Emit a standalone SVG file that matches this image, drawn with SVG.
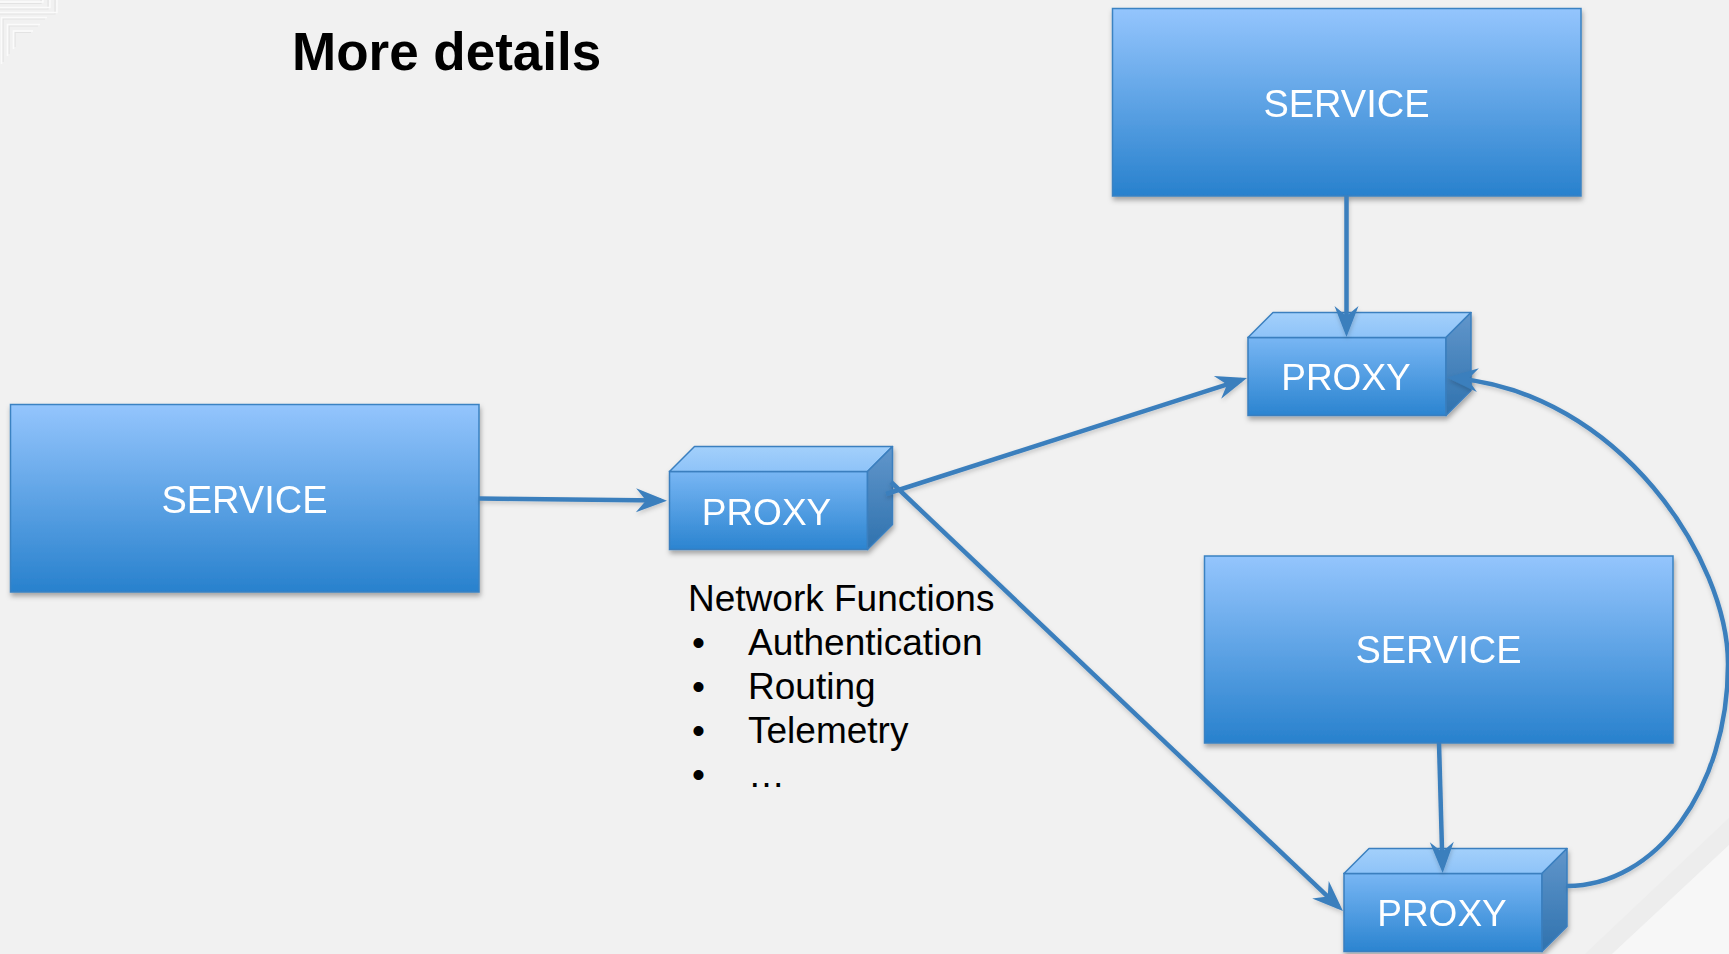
<svg xmlns="http://www.w3.org/2000/svg" width="1729" height="954" viewBox="0 0 1729 954">
  <style>
    .title { font-family: "Liberation Sans", Arial, sans-serif; font-weight: bold; font-size: 53px; fill: #000; }
    .label { font-family: "Liberation Sans", Arial, sans-serif; fill: #fff; text-anchor: middle; }
    .svc-label { font-size: 38px; }
    .proxy-label { font-size: 37px; }
    .notes { font-family: "Liberation Sans", Arial, sans-serif; font-size: 37px; fill: #000; }
    .service { fill: url(#svcFill); stroke: #3b82c2; stroke-width: 1.5; }
    .front { fill: url(#frontFill); stroke: #3a7fbf; stroke-width: 1.5; }
    .top { fill: url(#topFill); stroke: #3a7fbf; stroke-width: 1.5; stroke-linejoin: round; }
    .side { fill: url(#sideFill); stroke: #3a7fbf; stroke-width: 1.5; stroke-linejoin: round; }
    .edge { fill: none; stroke: #3b7fbd; stroke-width: 4.5; marker-end: url(#arrow); }
    .deco-w { fill: none; stroke: #fbfbfb; stroke-width: 1.6; }
    .deco-g { fill: none; stroke: #e3e3e3; stroke-width: 1.2; }
  </style>
  <defs>
    <linearGradient id="svcFill" x1="0" y1="0" x2="0" y2="1">
      <stop offset="0" stop-color="#94c5fd"/>
      <stop offset="1" stop-color="#2881cd"/>
    </linearGradient>
    <linearGradient id="frontFill" x1="0" y1="0" x2="0" y2="1">
      <stop offset="0" stop-color="#78b6f4"/>
      <stop offset="1" stop-color="#2b84d0"/>
    </linearGradient>
    <linearGradient id="topFill" x1="0" y1="0" x2="0" y2="1">
      <stop offset="0" stop-color="#a3d0fb"/>
      <stop offset="1" stop-color="#8ec3f8"/>
    </linearGradient>
    <linearGradient id="sideFill" x1="0" y1="0" x2="0" y2="1">
      <stop offset="0" stop-color="#6196cb"/>
      <stop offset="1" stop-color="#2f72ae"/>
    </linearGradient>
    <filter id="shadow" x="-10%" y="-10%" width="120%" height="130%">
      <feDropShadow dx="1" dy="3.5" stdDeviation="2.5" flood-color="#000" flood-opacity="0.32"/>
    </filter>
    <filter id="lineShadow" x="-10%" y="-10%" width="120%" height="130%">
      <feDropShadow dx="0.5" dy="2.5" stdDeviation="2" flood-color="#000" flood-opacity="0.18"/>
    </filter>
    <marker id="arrow" markerUnits="userSpaceOnUse" viewBox="-26 -13 33 26" refX="0" refY="0" markerWidth="33" markerHeight="26" orient="auto">
      <path d="M6,0 L-25,-12 L-15,0 L-25,12 Z" fill="#3b7fbd"/>
    </marker>
    <!-- 3D proxy box: front face at origin, 198 x 78, depth 25 -->
    <g id="proxyBox">
      <rect class="front" x="0" y="0" width="198" height="78"/>
      <polygon class="top" points="0,0 25,-25 223,-25 198,0"/>
      <polygon class="side" points="198,0 223,-25 223,53 198,78"/>
    </g>
  </defs>

  <!-- page background -->
  <rect x="0" y="0" width="1729" height="954" fill="#f1f1f1"/>

  <!-- corner ornaments -->
  <g id="corner-top-left">
    <path class="deco-g" d="M0,3.5 H41 V0 M0,9 H48 V0 M0,14 H55 V0"/>
    <path class="deco-w" d="M0,2 H43 V0 M0,7.5 H50 V0 M0,12.5 H57 V0"/>
    <path class="deco-g" d="M3,62 V19 H45 M9,54 V26 H38 M15,47 V32.5 H31"/>
    <path class="deco-w" d="M1.5,64 V17.5 H47 M7.5,56 V24.5 H40 M13.5,49 V31 H33"/>
  </g>
  <g id="corner-bottom-right">
    <polygon points="1585,954 1729,818 1729,845 1612,954" fill="#ededed"/>
    <polygon points="1612,954 1729,845 1729,954" fill="#f7f7f7"/>
  </g>

  <!-- title -->
  <text class="title" x="292" y="70">More details</text>

  <!-- services -->
  <g id="service-left" filter="url(#shadow)">
    <rect class="service" x="10.5" y="404.5" width="468.5" height="187.5"/>
    <text class="label svc-label" x="244.5" y="512.5">SERVICE</text>
  </g>
  <g id="service-top" filter="url(#shadow)">
    <rect class="service" x="1112.5" y="8.5" width="468.5" height="187.5"/>
    <text class="label svc-label" x="1346.5" y="116.5">SERVICE</text>
  </g>
  <g id="service-right" filter="url(#shadow)">
    <rect class="service" x="1204.5" y="556" width="468.5" height="187"/>
    <text class="label svc-label" x="1438.5" y="663">SERVICE</text>
  </g>

  <!-- proxies -->
  <g id="proxy-middle" filter="url(#shadow)" transform="translate(669.5,471.5)">
    <use href="#proxyBox"/>
    <text class="label proxy-label" x="97" y="53">PROXY</text>
  </g>
  <g id="proxy-top" filter="url(#shadow)" transform="translate(1248,337.5)">
    <use href="#proxyBox"/>
    <text class="label proxy-label" x="98" y="52.5">PROXY</text>
  </g>
  <g id="proxy-bottom" filter="url(#shadow)" transform="translate(1344,873.5)">
    <use href="#proxyBox"/>
    <text class="label proxy-label" x="98" y="52.5">PROXY</text>
  </g>

  <!-- proxy notes -->
  <g id="network-functions">
    <text class="notes" x="688" y="611">Network Functions</text>
    <text class="notes" x="692" y="654.5">•</text>
    <text class="notes" x="748" y="654.5">Authentication</text>
    <text class="notes" x="692" y="698.5">•</text>
    <text class="notes" x="748" y="698.5">Routing</text>
    <text class="notes" x="692" y="742.5">•</text>
    <text class="notes" x="748" y="742.5">Telemetry</text>
    <text class="notes" x="692" y="786.5">•</text>
    <text class="notes" x="748" y="786.5">…</text>
  </g>

  <!-- connectors -->
  <g id="connectors" filter="url(#lineShadow)">
    <path class="edge" d="M479,498.5 L661,500.6"/>
    <path class="edge" d="M886,494 L1241.3,379.8"/>
    <path class="edge" d="M891,482 L1338.6,906.9"/>
    <path class="edge" d="M1346.5,196 L1346.5,331"/>
    <path class="edge" d="M1439,743 L1442.5,867"/>
    <path class="edge" d="M1567,886 C1655,886 1728,790 1728,664 C1728,560 1620,392 1453,378"/>
  </g>
</svg>
